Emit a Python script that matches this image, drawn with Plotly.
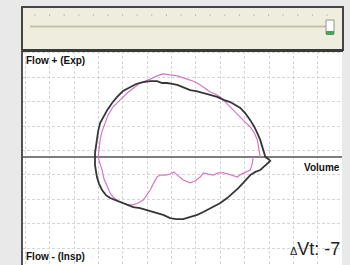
import plotly.graph_objects as go

# Loop data (volume units, flow units)
black_vol = [8.85, 8.77, 8.72, 8.64, 8.52, 8.40, 8.23, 8.02, 7.82, 7.61, 7.41, 7.16, 6.87, 6.58, 6.30,
             6.01, 5.76, 5.47, 5.23, 5.02, 4.81, 4.61, 4.40, 4.12, 3.83, 3.54, 3.29, 3.00, 2.76, 2.55,
             2.35, 2.18, 2.06, 1.98, 1.93, 1.89, 1.85, 1.85, 1.85, 1.93, 2.02, 2.14, 2.30, 2.47, 2.67,
             2.88, 3.13, 3.42, 3.70, 3.99, 4.32, 4.65, 4.94, 5.19, 5.47, 5.76, 6.05, 6.30, 6.46, 6.71,
             7.00, 7.28, 7.53, 7.74, 7.94, 8.11, 8.23, 8.44, 8.64, 8.77, 8.85, 8.97, 9.05, 8.97, 8.85]
black_flow = [0.00, 0.29, 0.41, 0.70, 0.98, 1.23, 1.51, 1.80, 2.01, 2.13, 2.25, 2.33, 2.46, 2.54, 2.62,
              2.70, 2.74, 2.87, 2.95, 2.99, 3.03, 3.03, 3.11, 3.11, 3.07, 2.99, 2.87, 2.70, 2.46, 2.21,
              1.92, 1.64, 1.39, 1.06, 0.70, 0.41, 0.16, -0.12, -0.33, -0.82, -1.11, -1.35, -1.56, -1.68, -1.76,
              -1.84, -1.92, -2.05, -2.09, -2.17, -2.25, -2.37, -2.50, -2.54, -2.54, -2.46, -2.37, -2.25, -2.17, -2.05,
              -1.88, -1.68, -1.47, -1.27, -1.06, -0.86, -0.74, -0.61, -0.53, -0.41, -0.33, -0.25, -0.16, -0.08, 0.00]

pink_vol = [8.64, 8.60, 8.52, 8.40, 8.23, 8.02, 7.82, 7.61, 7.41, 7.20, 7.00, 6.79, 6.58, 6.30, 6.05,
            5.76, 5.47, 5.23, 4.94, 4.65, 4.40, 4.12, 3.70, 3.42, 3.17, 2.88, 2.59, 2.39, 2.26, 2.14,
            2.06, 2.02, 1.98, 2.06, 2.14, 2.22, 2.35, 2.47, 2.59, 2.80, 3.00, 3.21, 3.42, 3.62, 3.83,
            3.99, 4.12, 4.24, 4.40, 4.53, 4.73, 4.94, 5.10, 5.23, 5.47, 5.76, 5.97, 6.17, 6.30, 6.50,
            6.71, 6.91, 7.12, 7.33, 7.53, 7.70, 7.86, 8.07, 8.23, 8.31, 8.35]
pink_flow = [0.00, 0.29, 0.70, 0.98, 1.23, 1.43, 1.64, 1.84, 2.05, 2.25, 2.46, 2.58, 2.66, 2.87, 3.03,
             3.15, 3.23, 3.32, 3.36, 3.40, 3.32, 3.19, 3.03, 2.83, 2.62, 2.33, 2.05, 1.72, 1.39, 1.06,
             0.70, 0.37, 0.00, -0.29, -0.53, -0.90, -1.23, -1.47, -1.64, -1.80, -1.88, -1.96, -1.96, -1.88, -1.76,
             -1.56, -1.35, -1.11, -0.82, -0.74, -0.74, -0.70, -0.61, -0.74, -0.94, -1.06, -0.98, -0.82, -0.65, -0.70,
             -0.74, -0.65, -0.65, -0.70, -0.78, -0.82, -0.70, -0.61, -0.53, -0.29, 0.00]

W, H = 350, 265

def px(x):
    return x / W

def py(y):
    return 1 - y / H

fig = go.Figure()
fig.add_trace(go.Scatter(x=pink_vol, y=pink_flow, mode="lines",
                         line=dict(color="#d479c6", width=1.2), hoverinfo="skip"))
fig.add_trace(go.Scatter(x=black_vol, y=black_flow, mode="lines",
                         line=dict(color="#363636", width=1.8), hoverinfo="skip"))

shapes = []
# slider panel
shapes.append(dict(type="rect", xref="paper", yref="paper", x0=px(22), x1=px(343), y0=py(50), y1=py(7),
                   fillcolor="#efeede", line=dict(color="#454545", width=2), layer="above"))
shapes.append(dict(type="line", xref="paper", yref="paper", x0=px(30), x1=px(328), y0=py(26.5), y1=py(26.5),
                   line=dict(color="#c4c0ad", width=2), layer="above"))
tx = 35.0
while tx < 332:
    shapes.append(dict(type="line", xref="paper", yref="paper", x0=px(tx), x1=px(tx), y0=py(16), y1=py(14),
                       line=dict(color="#c2bfae", width=1), layer="above"))
    tx += 14.6
# thumb
shapes.append(dict(type="rect", xref="paper", yref="paper", x0=px(326), x1=px(334), y0=py(34), y1=py(20),
                   fillcolor="#ffffff", line=dict(color="#8a9a88", width=1), layer="above"))
shapes.append(dict(type="rect", xref="paper", yref="paper", x0=px(326), x1=px(334), y0=py(35), y1=py(31),
                   fillcolor="#4f9f60", line=dict(width=0), layer="above"))
# plot borders
shapes.append(dict(type="line", xref="paper", yref="paper", x0=px(22), x1=px(22), y0=py(265), y1=py(50),
                   line=dict(color="#505050", width=2), layer="above"))
shapes.append(dict(type="line", xref="paper", yref="paper", x0=px(22), x1=px(343), y0=py(50.5), y1=py(50.5),
                   line=dict(color="#3a3a3a", width=3), layer="above"))

font_b = dict(family="Liberation Sans, Arial, sans-serif", size=10, color="#111111")
annotations = [
    dict(text="<b>Flow + (Exp)</b>", x=px(24), y=py(53), xref="paper", yref="paper",
         xanchor="left", yanchor="top", showarrow=False, font=font_b),
    dict(text="<b>Flow - (Insp)</b>", x=px(24), y=py(264), xref="paper", yref="paper",
         xanchor="left", yanchor="bottom", showarrow=False, font=font_b),
    dict(text="<b>Volume</b>", x=px(342), y=py(160), xref="paper", yref="paper",
         xanchor="right", yanchor="top", showarrow=False, font=font_b),
    dict(text="<span style='font-size:11px'>Δ</span>Vt: -7", x=px(342), y=py(261), xref="paper", yref="paper",
         xanchor="right", yanchor="bottom", showarrow=False,
         font=dict(family="Liberation Sans, Arial, sans-serif", size=18, color="#222222")),
]

fig.update_layout(
    width=W, height=H,
    margin=dict(l=0, r=0, t=0, b=0),
    paper_bgcolor="#e9e9e9",
    plot_bgcolor="#ffffff",
    showlegend=False,
    shapes=shapes,
    annotations=annotations,
    xaxis=dict(domain=[22 / W, 342 / W], range=[-1.15, 12.0], tick0=0, dtick=1,
               showticklabels=False, ticks="", showline=False, zeroline=False,
               showgrid=True, gridcolor="#d6d6d6", griddash="3px,2px", gridwidth=1, fixedrange=True),
    yaxis=dict(domain=[0, 1 - 51 / H], range=[-4.42, 4.34], tick0=0.27, dtick=1,
               showticklabels=False, ticks="", showline=False,
               zeroline=True, zerolinecolor="#7d7d7d", zerolinewidth=2,
               showgrid=True, gridcolor="#d6d6d6", griddash="3px,2px", gridwidth=1, fixedrange=True),
)

fig.write_html("out.html", config={"displayModeBar": False},
               post_script="document.body.style.margin='0';document.body.style.padding='0';"
                           "document.body.style.background='#e9e9e9';document.body.style.overflow='hidden';")
